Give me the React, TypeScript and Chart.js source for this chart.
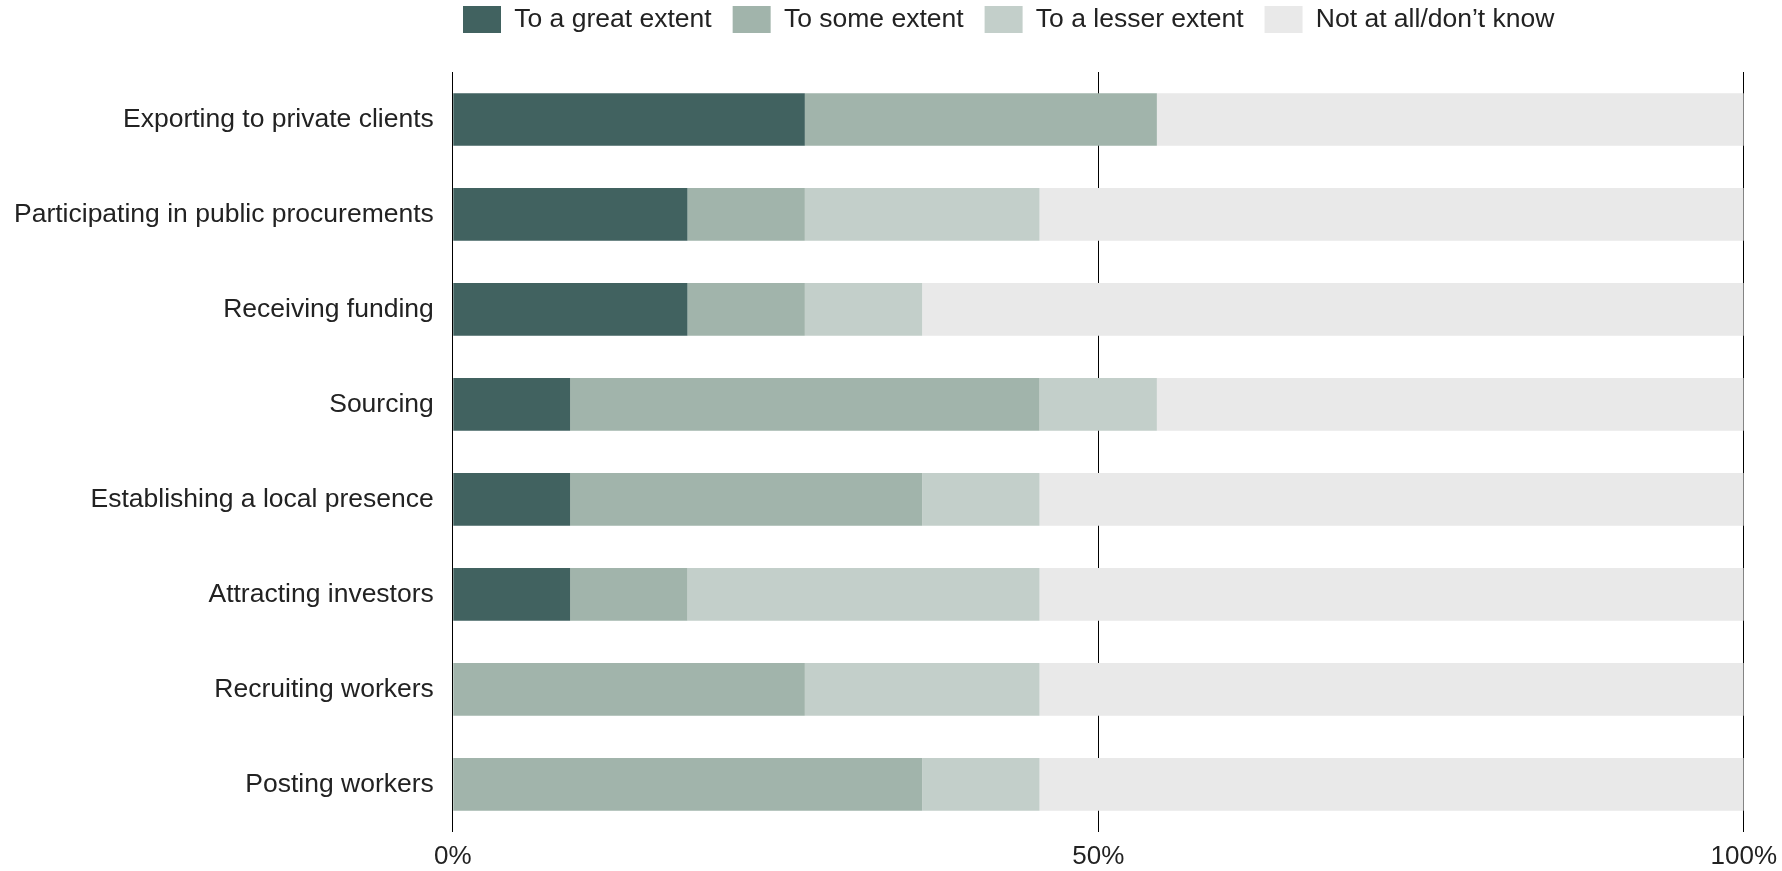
import React, { useEffect, useRef } from "react";
import { Chart, registerables } from "chart.js";

Chart.register(...registerables);

const categories = [
  "Exporting to private clients",
  "Participating in public procurements",
  "Receiving funding",
  "Sourcing",
  "Establishing a local presence",
  "Attracting investors",
  "Recruiting workers",
  "Posting workers",
];
const seriesNames = ["To a great extent", "To some extent", "To a lesser extent", "Not at all/don\u2019t know"];
const greatExtent = [27.27, 18.18, 18.18, 9.09, 9.09, 9.09, 0, 0];
const someExtent = [27.27, 9.09, 9.09, 36.36, 27.27, 9.09, 27.27, 36.36];
const lesserExtent = [0, 18.18, 9.09, 9.09, 9.09, 27.27, 18.18, 9.09];
const notAtAll = [45.46, 54.55, 63.64, 45.46, 54.55, 54.55, 54.55, 54.55];
const xTicks = [0, 50, 100];
const colors = ["#416260", "#A1B4AB", "#C3CFCA", "#E9E9E9"];

const FONT = "'Liberation Sans', Arial, sans-serif";
const OFFSET_X = -19;
const LEGEND_PAD = 21;

const legendShift = {
  id: "legendShift",
  afterLayout(chart: any) {
    const lg = chart.legend;
    if (!lg) return;
    const h = lg.bottom - lg.top;
    lg.top = 6 - LEGEND_PAD;
    lg.bottom = lg.top + h;
    const w = lg.right - lg.left;
    lg.left = 463 - LEGEND_PAD - OFFSET_X;
    lg.right = lg.left + w;
  },
};

export default function App() {
  const ref = useRef<HTMLCanvasElement>(null);
  useEffect(() => {
    if (!ref.current) return;
    const series = [greatExtent, someExtent, lesserExtent, notAtAll];
    const chart = new Chart(ref.current, {
      type: "bar",
      data: {
        labels: categories,
        datasets: series.map((d, i) => ({
          label: seriesNames[i],
          data: d,
          backgroundColor: colors[i],
          borderWidth: 0,
          barPercentage: 0.555,
          categoryPercentage: 1,
        })),
      },
      plugins: [legendShift],
      options: {
        indexAxis: "y",
        animation: false,
        responsive: true,
        maintainAspectRatio: false,
        layout: { padding: { top: 14, right: 35, left: 14, bottom: 0 } },
        plugins: {
          tooltip: { enabled: false },
          legend: {
            position: "top",
            align: "start",
            labels: {
              boxWidth: 38,
              boxHeight: 27,
              padding: LEGEND_PAD,
              color: "#222",
              font: { family: FONT, size: 26.5 },
            },
          },
        },
        scales: {
          x: {
            stacked: true,
            min: 0,
            max: 100,
            afterBuildTicks: (axis: any) => {
              axis.ticks = xTicks.map((v) => ({ value: v }));
            },
            ticks: {
              callback: (v: any) => v + "%",
              color: "#222",
              padding: 9,
              maxRotation: 0,
              font: { family: FONT, size: 26 },
            },
            grid: { color: "#000", lineWidth: 1, drawTicks: false },
            border: { display: false },
          },
          y: {
            stacked: true,
            ticks: {
              color: "#222",
              padding: 19,
              font: { family: FONT, size: 26.5 },
            },
            grid: { display: false, drawTicks: false },
            border: { display: true, color: "#000", width: 1 },
          },
        },
      },
    });
    return () => chart.destroy();
  }, []);
  return (
    <div style={{ position: "fixed", left: OFFSET_X, top: 0, width: 1782 - OFFSET_X + 4, height: 881 }}>
      <canvas ref={ref} />
    </div>
  );
}
